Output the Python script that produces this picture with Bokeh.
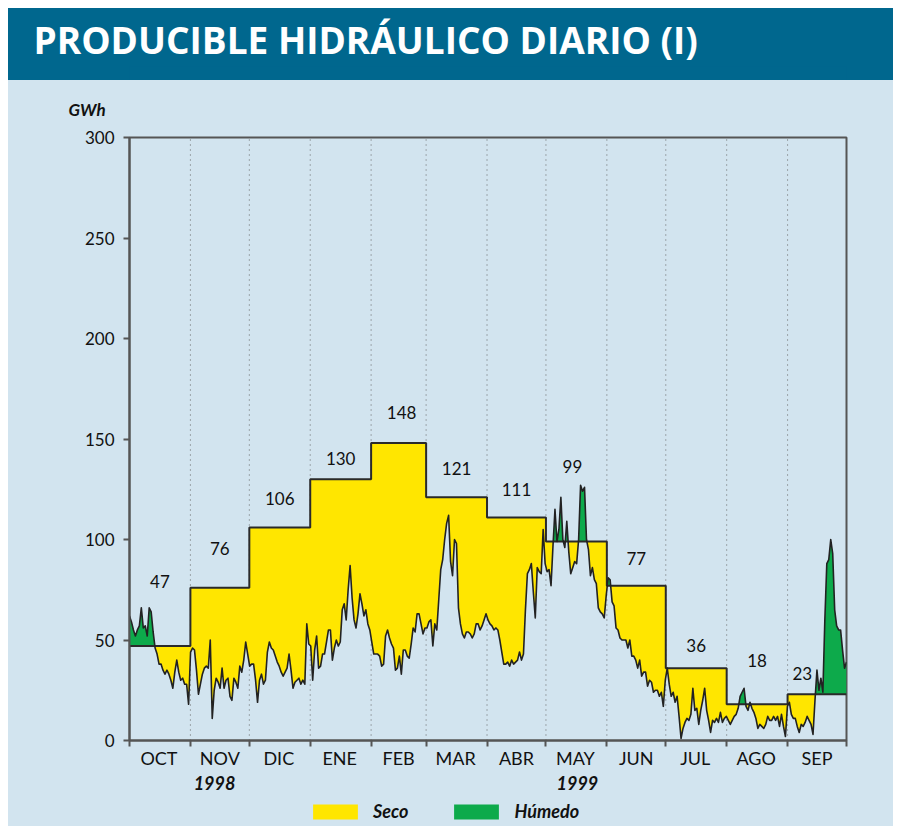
import numpy as np
from bokeh.plotting import figure
from bokeh.layouts import column
from bokeh.models import FixedTicker, Legend, LegendItem, ColumnDataSource
from bokeh.embed import file_html
from bokeh.resources import INLINE
from bokeh.core.properties import value

# ---------------- data ----------------
months = ["OCT", "NOV", "DIC", "ENE", "FEB", "MAR", "ABR", "MAY", "JUN", "JUL", "AGO", "SEP"]
days_in_month = [31, 30, 31, 31, 28, 31, 30, 31, 30, 31, 31, 30]
monthly_dry = [47, 76, 106, 130, 148, 121, 111, 99, 77, 36, 18, 23]   # GWh, año seco
y_ticks = [0, 50, 100, 150, 200, 250, 300]
years = ["1998", "1999"]

oct_vals = [62, 59, 55, 52, 55, 57, 66, 56, 57, 52, 66, 64, 54, 46, 43, 38, 38, 35, 33, 35,
            33, 30, 26, 34, 40, 34, 30, 31, 28, 28, 18]
nov_vals = [44, 46, 45, 35, 23, 28, 33, 36, 37, 36, 50, 11, 25, 31, 29, 26, 36, 26, 30, 31,
            22, 20, 31, 29, 26, 37, 34, 40, 49, 43]
dic_vals = [37, 38, 38, 30, 19, 30, 33, 28, 30, 44, 49, 46, 45, 42, 39, 37, 34, 32, 34, 36,
            43, 35, 26, 29, 30, 31, 28, 30, 28, 58, 48]
ene_vals = [47, 30, 45, 52, 36, 37, 43, 43, 49, 55, 55, 40, 46, 50, 47, 49, 65, 68, 60, 75,
            87, 71, 60, 56, 63, 73, 68, 62, 65, 58, 55]
feb_vals = [49, 43, 43, 43, 42, 37, 38, 52, 55, 51, 48, 46, 35, 36, 42, 33, 45, 45, 42, 41,
            48, 56, 54, 63, 63, 58, 53, 56]
mar_vals = [56, 59, 60, 47, 58, 55, 70, 85, 90, 100, 108, 112, 89, 82, 100, 98, 66, 58, 53, 51,
            54, 54, 53, 51, 53, 58, 58, 55, 57, 60, 63]
abr_vals = [60, 58, 57, 55, 56, 55, 50, 44, 38, 38, 39, 37, 40, 38, 39, 40, 44, 40, 43, 65,
            83, 85, 88, 74, 61, 86, 84, 83, 105, 88]
may_vals = [84, 85, 77, 97, 115, 99, 105, 121, 100, 96, 109, 94, 83, 86, 89, 88, 100, 127, 124, 126,
            100, 95, 82, 86, 80, 78, 66, 64, 63, 61, 72]
jun_vals = [81, 80, 69, 67, 56, 55, 51, 50, 50, 50, 46, 50, 42, 42, 40, 36, 40, 32, 34, 34,
            27, 30, 29, 24, 25, 25, 22, 24, 17, 30]
jul_vals = [36, 28, 22, 24, 19, 22, 12, 1, 6, 9, 11, 10, 13, 26, 15, 16, 8, 15, 20, 26,
            15, 10, 4, 10, 9, 11, 9, 14, 9, 11, 12]
ago_vals = [10, 8, 10, 12, 13, 16, 22, 24, 26, 17, 15, 19, 16, 14, 11, 6, 8, 7, 6, 8,
            12, 10, 10, 12, 10, 12, 7, 13, 7, 2, 17]
sep_vals = [19, 13, 11, 11, 7, 4, 8, 7, 9, 12, 10, 8, 3, 20, 35, 25, 31, 24, 60, 88,
            90, 100, 93, 65, 57, 55, 55, 45, 36, 39]

# ---------------- style / layout ----------------
BG = "#D2E4EF"
TEAL = "#00678E"
YELLOW = "#FFE600"
GREEN = "#0DAA4B"
AXIS = "#555555"
TXT = "#111111"
FONT = "Lato"
value_label_y = [79, 95.5, 120.5, 140.5, 163, 135.5, 125, 136.5, 90.5, 47.5, 40, 33.5]
value_label_dx = [0, 0, 0, 0, 1.5, 0, 0, -2, 0, 0, 0, -7.5]
year_label_x = [43.3, 228]
BOTTOM_H = 53          # height of the strip holding years + legend (px)

daily = np.array(oct_vals + nov_vals + dic_vals + ene_vals + feb_vals + mar_vals +
                 abr_vals + may_vals + jun_vals + jul_vals + ago_vals + sep_vals, dtype=float)
n = len(daily)
bounds = np.concatenate([[0], np.cumsum(days_in_month)]).astype(float)
total = bounds[-1]
xd = np.arange(n) * total / (n - 1)


def month_of(x):
    return min(int(np.searchsorted(bounds, x, side="right")) - 1, 11)


# geometry for the fills between daily curve and monthly step
fx, fd, fs = [], [], []
for i in range(n - 1):
    x0, x1 = xd[i], xd[i + 1]
    y0, y1 = daily[i], daily[i + 1]
    inner = [b for b in bounds[1:-1] if x0 < b < x1]
    cuts = [x0] + inner + [x1]
    for k in range(len(cuts) - 1):
        a, b = cuts[k], cuts[k + 1]
        L = monthly_dry[month_of((a + b) / 2)]
        ya = y0 + (y1 - y0) * (a - x0) / (x1 - x0)
        yb = y0 + (y1 - y0) * (b - x0) / (x1 - x0)
        fx.append(a); fd.append(ya); fs.append(L)
        if (ya - L) * (yb - L) < 0:
            xc = a + (L - ya) * (b - a) / (yb - ya)
            fx.append(xc); fd.append(L); fs.append(L)
        if k < len(cuts) - 2:
            fx.append(b); fd.append(yb); fs.append(L)
fx.append(xd[-1]); fd.append(daily[-1]); fs.append(monthly_dry[-1])
fx = np.array(fx); fd = np.array(fd); fs = np.array(fs, dtype=float)
fill_src = ColumnDataSource(dict(x=fx, lo=np.minimum(fd, fs), hi=np.maximum(fd, fs), s=fs))

# ---------------- title bar ----------------
tfig = figure(width=885, height=72, x_range=(0, 1), y_range=(0, 1),
              x_axis_type=None, y_axis_type=None,
              min_border_left=121, min_border_right=47, min_border_top=58, min_border_bottom=0,
              outline_line_color=None,
              background_fill_color=TEAL, border_fill_color=TEAL,
              styles={"background-color": TEAL},
              output_backend="svg", toolbar_location=None)
tfig.title.text = "PRODUCIBLE HIDRÁULICO DIARIO (I)"
tfig.title.align = "left"
tfig.title.offset = -96
tfig.title.standoff = 4
tfig.title.text_font = "Open Sans"
tfig.title.text_font_size = "37px"
tfig.title.text_font_style = "bold"
tfig.title.text_color = "white"

# ---------------- main chart ----------------
p = figure(frame_width=717, frame_height=603, x_range=(0, total), y_range=(0, 300),
           min_border_left=121, min_border_right=47, min_border_top=57, min_border_bottom=33,
           background_fill_color=BG, border_fill_color=BG,
           styles={"background-color": BG},
           outline_line_color=AXIS, outline_line_width=2,
           output_backend="svg", toolbar_location=None)
p.grid.visible = False

# unit label as the plot title, above the axis
p.title.text = "GWh"
p.title.align = "left"
p.title.vertical_align = "middle"
p.title.offset = -61
p.title.standoff = 34
p.title.text_font = FONT
p.title.text_font_size = "17px"
p.title.text_font_style = "bold italic"
p.title.text_color = TXT

# dotted month separators
sep_x = list(bounds[1:-1])
p.segment(x0=sep_x, y0=[0] * len(sep_x), x1=sep_x, y1=[300] * len(sep_x),
          line_color="#666666", line_width=1, line_dash="1 4")

p.varea(x="x", y1="lo", y2="s", source=fill_src, fill_color=YELLOW)
p.varea(x="x", y1="s", y2="hi", source=fill_src, fill_color=GREEN)

# monthly step (año seco)
sx, sy = [], []
for m in range(12):
    sx += [bounds[m], bounds[m + 1]]
    sy += [monthly_dry[m]] * 2
p.line(sx, sy, line_color="#2a2a2a", line_width=2)

# daily series
p.line(xd, daily, line_color="#222222", line_width=1.6, line_join="round")

# monthly value labels
mid = (bounds[:-1] + bounds[1:]) / 2
p.text(x=list(mid + np.array(value_label_dx)), y=value_label_y,
       text=[str(v) for v in monthly_dry], text_align="center", text_baseline="middle",
       text_font=value(FONT), text_font_size="17px", text_color=TXT)

# month axis
mids = [int(v) for v in mid]
p.xaxis.ticker = FixedTicker(ticks=mids, minor_ticks=list(bounds))
p.xaxis.major_label_overrides = {t: name for t, name in zip(mids, months)}
p.xaxis.major_tick_out = 0
p.xaxis.major_tick_in = 0
p.xaxis.minor_tick_out = 6
p.xaxis.minor_tick_in = 0
p.xaxis.minor_tick_line_color = AXIS
p.xaxis.minor_tick_line_width = 2
p.xaxis.major_label_standoff = 0
p.xaxis.major_label_text_font = FONT
p.xaxis.major_label_text_font_size = "18px"
p.xaxis.major_label_text_color = TXT

p.yaxis.ticker = FixedTicker(ticks=y_ticks)
p.yaxis.major_tick_out = 6
p.yaxis.major_tick_in = 0
p.yaxis.minor_tick_line_color = None
p.yaxis.major_tick_line_color = AXIS
p.yaxis.major_tick_line_width = 2
p.yaxis.major_label_standoff = 9
p.yaxis.major_label_text_font = FONT
p.yaxis.major_label_text_font_size = "17px"
p.yaxis.major_label_text_color = TXT

for ax in (p.xaxis, p.yaxis):
    ax.axis_line_color = AXIS
    ax.axis_line_width = 2

# ---------------- bottom strip: years + legend ----------------
bfig = figure(frame_width=717, frame_height=BOTTOM_H, x_range=p.x_range, y_range=(0, BOTTOM_H),
              x_axis_type=None, y_axis_type=None,
              min_border_left=121, min_border_right=47, min_border_top=0, min_border_bottom=0,
              outline_line_color=None, background_fill_color=BG, border_fill_color=BG,
              styles={"background-color": BG},
              output_backend="svg", toolbar_location=None)
bfig.grid.visible = False
bfig.text(x=year_label_x, y=[44] * len(years), text=years,
          text_align="center", text_baseline="middle", text_font=value(FONT),
          text_font_size="18px", text_font_style="bold italic", text_color=TXT)
# legend swatches: hidden copies of the two fills (only their legend glyphs are shown)
sw_y = bfig.varea(x="x", y1="lo", y2="s", source=fill_src, fill_color=YELLOW, visible=False)
sw_g = bfig.varea(x="x", y1="s", y2="hi", source=fill_src, fill_color=GREEN, visible=False)
legend = Legend(items=[LegendItem(label="Seco", renderers=[sw_y]),
                       LegendItem(label="Húmedo", renderers=[sw_g])],
                location=(178, 4), orientation="horizontal",
                glyph_width=56, glyph_height=19, label_height=19, label_standoff=10,
                spacing=40, padding=0, margin=0,
                background_fill_alpha=0, border_line_alpha=0, inactive_fill_alpha=0,
                label_text_font=FONT, label_text_font_size="18px",
                label_text_font_style="bold italic", label_text_color=TXT)
bfig.add_layout(legend)

layout = column(tfig, p, bfig, spacing=0, margin=(8, 0, 0, 8))
open("out.html", "w").write(file_html(layout, INLINE))
